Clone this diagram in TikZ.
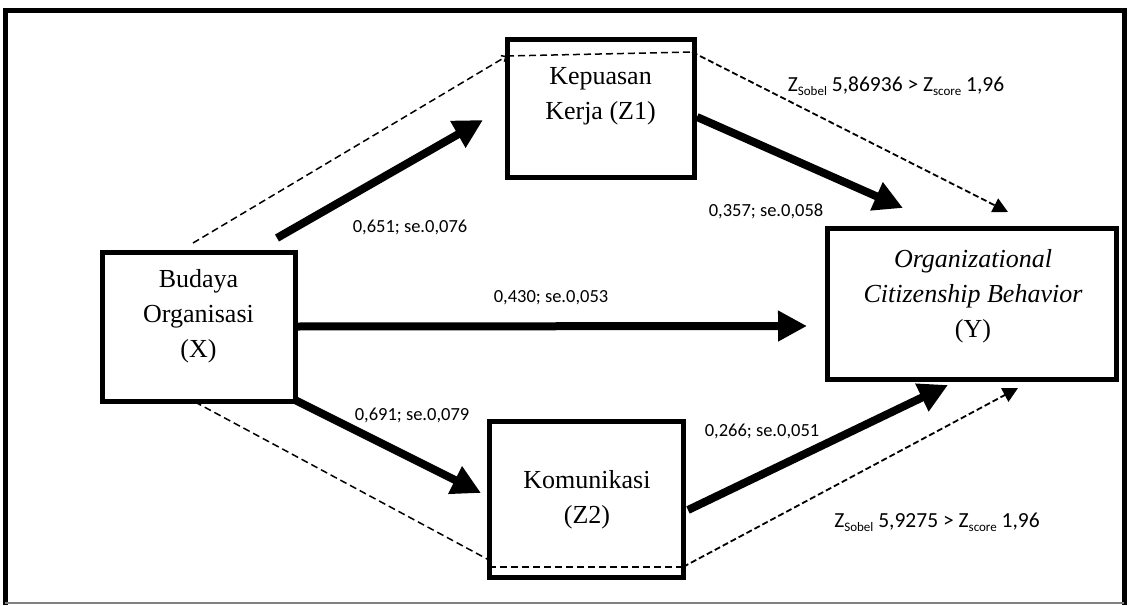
\documentclass[tikz,border=0pt]{standalone}
\usepackage{fontspec}
\setmainfont{Liberation Serif}
\newfontfamily\labfont{Carlito}
\usetikzlibrary{arrows.meta}
\newcommand{\sbs}[1]{\raisebox{-0.35ex}{\fontsize{13}{13}\selectfont #1}}
\begin{document}
\begin{tikzpicture}[x=1pt,y=-1pt,
  box/.style={draw, rectangle, line width=5pt, inner sep=0pt, outer sep=0pt},
  boxtext/.style={font=\fontsize{26}{35}\selectfont, align=center, inner sep=0pt},
  lbl/.style={font=\labfont\fontsize{18.5}{22}\selectfont, inner sep=0pt},
  sob/.style={font=\labfont\fontsize{21.5}{26}\selectfont, inner sep=0pt},
  bigarrow/.style={line width=8pt, -{Triangle[length=29pt,width=29pt]}},
  dsh/.style={line width=1.5pt, dash pattern=on 7pt off 4pt},
  dsharrow/.style={line width=1.8pt, dash pattern=on 6pt off 3pt, -{Triangle[length=15pt,width=15pt]}},
  frame/.style={line width=5pt}
]
\useasboundingbox (0,0) rectangle (1129,605);
% outer frame
\draw[frame] (5,605) -- (5,10) -- (1124,10) -- (1124,605);
\draw[line width=2pt, gray] (5,603) -- (1124,603);

% boxes
\node[box, minimum width=193pt, minimum height=149pt] (X) at (198.5,326.5) {};
\node[box, minimum width=187pt, minimum height=138pt] (Z1) at (600.5,108) {};
\node[box, minimum width=194pt, minimum height=156pt] (Z2) at (586,499) {};
\node[box, minimum width=289pt, minimum height=151pt] (Y) at (971.5,303.5) {};

% box texts
\node[boxtext] (Xt) at (198.5,316) {Budaya\\Organisasi\\(X)};
\node[boxtext] (Z1t) at (600.5,96) {Kepuasan\\Kerja (Z1)};
\node[boxtext] (Z2t) at (587,500) {Komunikasi\\(Z2)};
\node[boxtext] (Yt) at (973,296) {\itshape Organizational\\\itshape Citizenship Behavior\\(Y)};

% dashed indirect paths
\draw[dsh, -{Straight Barb[length=4pt,width=7pt]}] ([xshift=-5.5pt,yshift=9pt]X.north) -- ([yshift=-17pt]Z1.north west);
\draw[dsh] ([yshift=-17pt]Z1.north west) -- ([xshift=-2pt,yshift=-13pt]Z1.north east);
\draw[dsharrow] ([xshift=-2pt,yshift=-13pt]Z1.north east) -- ([xshift=36.5pt,yshift=16pt]Y.north);
\draw[dsh] ([xshift=-3.5pt,yshift=-1pt]X.south) -- ([yshift=17pt]Z2.south west);
\draw[dsh] ([yshift=10pt]Z2.south west) -- ([yshift=10pt]Z2.south east);
\draw[dsharrow] ([yshift=10pt]Z2.south east) -- ([xshift=46.5pt,yshift=-9pt]Y.south);

% direct paths
\draw[bigarrow] ([xshift=-18pt,yshift=14pt]X.north east) -- ([xshift=-24pt,yshift=-12pt]Z1.west);
\draw[bigarrow] (X.east) -- ([xshift=-20pt,yshift=-22.5pt]Y.west);
\draw[bigarrow] ([xshift=-2pt,yshift=2pt]X.south east) -- ([xshift=-8pt,yshift=6pt]Z2.west);
\draw[bigarrow] ([xshift=3pt,yshift=-9pt]Z1.east) -- ([xshift=76pt,yshift=20pt]Y.north west);
\draw[bigarrow] ([xshift=5pt,yshift=-11pt]Z2.east) -- ([xshift=121pt,yshift=-6pt]Y.south west);

% labels
\node[lbl] (l1) at (410,227) {0,651; se.0,076};
\node[lbl] (l2) at (551,298) {0,430; se.0,053};
\node[lbl] (l3) at (412,415) {0,691; se.0,079};
\node[lbl] (l4) at (766,211) {0,357; se.0,058};
\node[lbl] (l5) at (762,431) {0,266; se.0,051};
\node[sob] (s1) at (896,86) {Z\sbs{Sobel} 5,86936 > Z\sbs{score} 1,96};
\node[sob] (s2) at (937,522) {Z\sbs{Sobel} 5,9275 > Z\sbs{score} 1,96};
\end{tikzpicture}
\end{document}
